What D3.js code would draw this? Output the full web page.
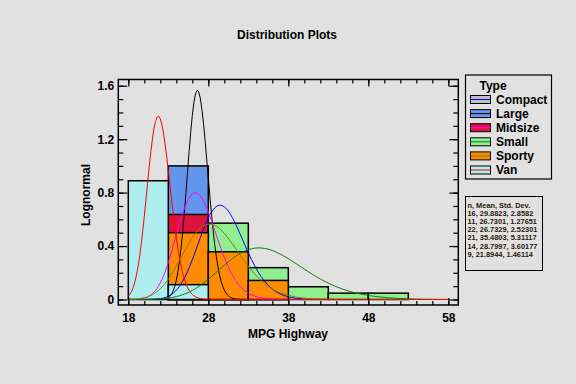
<!DOCTYPE html>
<html>
<head>
<meta charset="utf-8">
<script src="https://cdn.jsdelivr.net/npm/d3@7"></script>
<style>
  html, body { margin: 0; padding: 0; background: #e1e1e1; }
  svg { display: block; font-family: "Liberation Sans", Arial, sans-serif; }
</style>
</head>
<body>
<svg id="chart" width="576" height="384"></svg>
<script>
// ---------- data ----------
const types = ["Compact", "Large", "Midsize", "Small", "Sporty", "Van"];
const binEdges = [18, 23, 28, 33, 38, 43, 48, 53, 58];
// counts per bin (bins: 18-23, 23-28, 28-33, 33-38, 38-43, 43-48, 48-53, 53-58)
const countsCompact = [0, 4, 9, 3, 0, 0, 0, 0];
const countsLarge   = [0, 11, 0, 0, 0, 0, 0, 0];
const countsMidsize = [0, 14, 8, 0, 0, 0, 0, 0];
const countsSmall   = [0, 0, 12, 5, 2, 1, 1, 0];
const countsSporty  = [0, 7, 5, 2, 0, 0, 0, 0];
const countsVan     = [8, 1, 0, 0, 0, 0, 0, 0];
const ns    = [16, 11, 22, 21, 14, 9];
const means = [29.8823, 26.7301, 26.7329, 35.4803, 28.7997, 21.8944];
const sds   = [2.8582, 1.27651, 2.52301, 5.31117, 3.60177, 1.46114];
const statLines = [
  "n, Mean, Std. Dev.",
  "16, 29.8823, 2.8582",
  "11, 26.7301, 1.27651",
  "22, 26.7329, 2.52301",
  "21, 35.4803, 5.31117",
  "14, 28.7997, 3.60177",
  "9, 21.8944, 1.46114"
];
const xTicks = [18, 28, 38, 48, 58];
const yTicks = [0, 0.4, 0.8, 1.2, 1.6];

// ---------- styles ----------
const fills = ["#c0c0c0", "#6495ed", "#dc143c", "#90ee90", "#ff8c00", "#afeeee"];
const lineColors = ["#0000ff", "#000000", "#ff00ff", "#008000", "#808000", "#ff0000"];
const allCounts = [countsCompact, countsLarge, countsMidsize, countsSmall, countsSporty, countsVan];
const binWidth = 5;

const svg = d3.select("#chart");
const L = 118.3, R = 458.3, T = 79.5, B = 305;
const x = d3.scaleLinear().domain([16.75, 59.25]).range([L, R]);
const y = d3.scaleLinear().domain([-5.5 / 133.6, 220 / 133.6]).range([B, T]);

svg.append("rect").attr("width", 576).attr("height", 384).attr("fill", "#e1e1e1");

// title
svg.append("text").attr("x", 287).attr("y", 39).attr("text-anchor", "middle")
  .attr("font-size", 12).attr("font-weight", "bold").attr("fill", "#000")
  .text("Distribution Plots");

svg.append("defs").append("clipPath").attr("id", "clip")
  .append("rect").attr("x", L).attr("y", T).attr("width", R - L).attr("height", B - T);

const plot = svg.append("g").attr("clip-path", "url(#clip)");

// histogram bars, drawn in series order
types.forEach((t, i) => {
  const n = ns[i];
  const bars = allCounts[i].map((c, j) => ({ x0: binEdges[j], x1: binEdges[j + 1], v: c / n }))
    .filter(d => d.v > 0);
  plot.append("g").selectAll("rect").data(bars).join("rect")
    .attr("x", d => x(d.x0))
    .attr("y", d => y(d.v))
    .attr("width", d => x(d.x1) - x(d.x0))
    .attr("height", d => y(0) - y(d.v))
    .attr("fill", fills[i])
    .attr("stroke", "#000")
    .attr("stroke-width", 1.5);
});

// lognormal curves (density * bin width)
function lognormalPdf(xv, m, s) {
  const s2 = Math.log(1 + (s / m) * (s / m));
  const sig = Math.sqrt(s2);
  const mu = Math.log(m) - s2 / 2;
  const z = (Math.log(xv) - mu) / sig;
  return Math.exp(-0.5 * z * z) / (xv * sig * Math.sqrt(2 * Math.PI));
}
const xs = d3.range(0, 201).map(k => 18 + k * 0.2);
const line = d3.line().x(d => x(d[0])).y(d => y(d[1]));
types.forEach((t, i) => {
  const pts = xs.map(xv => [xv, binWidth * lognormalPdf(xv, means[i], sds[i])]);
  plot.append("path").datum(pts).attr("d", line)
    .attr("fill", "none").attr("stroke", lineColors[i]).attr("stroke-width", 1);
});

// frame
svg.append("rect").attr("x", L).attr("y", T).attr("width", R - L).attr("height", B - T)
  .attr("fill", "none").attr("stroke", "#000").attr("stroke-width", 1.5);

// axes (ticks inward)
const xMinor = d3.range(18, 59, 2);
const yMinor = d3.range(0, 17).map(k => k / 10);
function styleAxis(g) {
  g.select(".domain").remove();
  g.selectAll(".tick line").attr("stroke", "#000").attr("stroke-width", 1.2);
  g.selectAll("text").attr("font-size", 12).attr("font-weight", "bold")
    .attr("font-family", "Liberation Sans, Arial, sans-serif").attr("fill", "#000");
}
svg.append("g").attr("transform", `translate(0,${B})`)
  .call(d3.axisBottom(x).tickValues(xMinor).tickSize(-4).tickFormat("")).call(styleAxis);
svg.append("g").attr("transform", `translate(0,${B})`)
  .call(d3.axisBottom(x).tickValues(xTicks).tickSize(-7).tickPadding(8).tickFormat(d3.format("d")))
  .call(styleAxis);
svg.append("g").attr("transform", `translate(0,${T})`)
  .call(d3.axisTop(x).tickValues(xMinor).tickSize(-4).tickFormat("")).call(styleAxis);
svg.append("g").attr("transform", `translate(0,${T})`)
  .call(d3.axisTop(x).tickValues(xTicks).tickSize(-7).tickFormat("")).call(styleAxis);

const yFmt = d => d === 0 ? "0" : d3.format(".1f")(d);
svg.append("g").attr("transform", `translate(${L},0)`)
  .call(d3.axisLeft(y).tickValues(yMinor).tickSize(-5).tickFormat("")).call(styleAxis);
svg.append("g").attr("transform", `translate(${L},0)`)
  .call(d3.axisLeft(y).tickValues(yTicks).tickSize(-9).tickPadding(4).tickFormat(yFmt)).call(styleAxis);
svg.append("g").attr("transform", `translate(${R},0)`)
  .call(d3.axisRight(y).tickValues(yMinor).tickSize(-5).tickFormat("")).call(styleAxis);
svg.append("g").attr("transform", `translate(${R},0)`)
  .call(d3.axisRight(y).tickValues(yTicks).tickSize(-9).tickFormat("")).call(styleAxis);

// axis labels
svg.append("text").attr("x", 288).attr("y", 338).attr("text-anchor", "middle")
  .attr("font-size", 12).attr("font-weight", "bold").text("MPG Highway");
svg.append("text").attr("transform", "translate(90,195) rotate(-90)").attr("text-anchor", "middle")
  .attr("font-size", 12).attr("font-weight", "bold").text("Lognormal");

// legend
const lg = svg.append("g");
lg.append("rect").attr("x", 465.5).attr("y", 75).attr("width", 86).attr("height", 104)
  .attr("fill", "#e1e1e1").attr("stroke", "#000").attr("stroke-width", 1.2);
lg.append("text").attr("x", 493).attr("y", 89.5).attr("text-anchor", "middle")
  .attr("font-size", 12).attr("font-weight", "bold").text("Type");
types.forEach((t, i) => {
  const cy = 99.5 + i * 14.1;
  lg.append("rect").attr("x", 470.5).attr("y", cy - 4).attr("width", 20).attr("height", 8)
    .attr("fill", fills[i]).attr("stroke", "#000").attr("stroke-width", 1);
  lg.append("line").attr("x1", 470.5).attr("x2", 490.5).attr("y1", cy).attr("y2", cy)
    .attr("stroke", lineColors[i]).attr("stroke-width", 1);
  lg.append("text").attr("x", 496).attr("y", cy + 4.3)
    .attr("font-size", 12).attr("font-weight", "bold").text(t);
});

// stats box
const sg = svg.append("g");
sg.append("rect").attr("x", 465.5).attr("y", 196.5).attr("width", 77).attr("height", 74)
  .attr("fill", "#e1e1e1").attr("stroke", "#000").attr("stroke-width", 1);
statLines.forEach((s, i) => {
  sg.append("text").attr("x", 467.5).attr("y", 208 + i * 8.1)
    .attr("font-size", 7.4).attr("font-weight", "bold").attr("fill", "#2a1a0a").text(s);
});
</script>
</body>
</html>
